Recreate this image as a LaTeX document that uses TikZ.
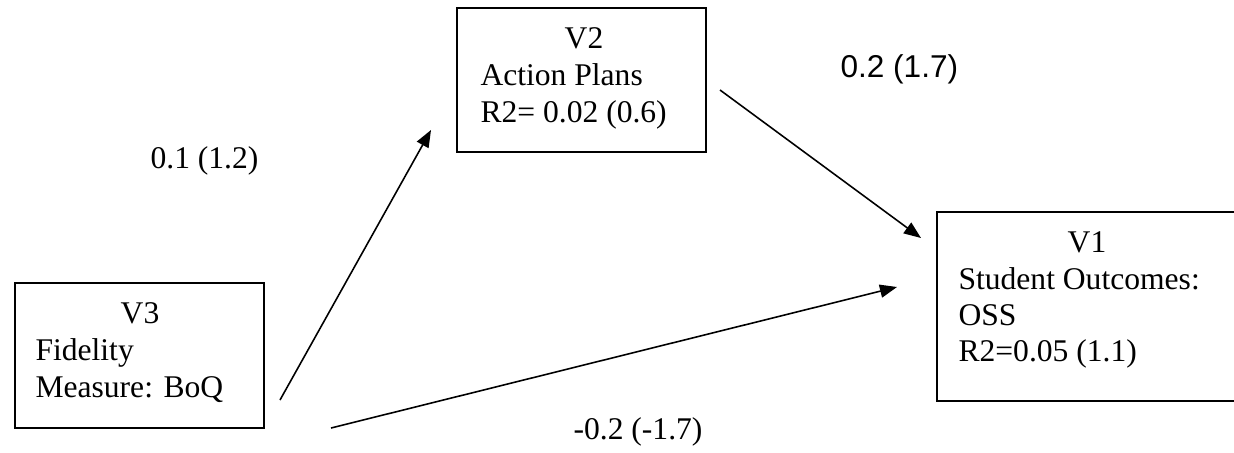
\documentclass[tikz,border=0pt]{standalone}
\usepackage{fontspec}
\setmainfont{Liberation Serif}
\newfontfamily\arialfont{Liberation Sans}
\usetikzlibrary{arrows.meta,fit}
\begin{document}
\begin{tikzpicture}[x=0.38pt,y=-0.38pt,
  box/.style={draw=black, line width=0.75pt, inner sep=0pt, rectangle},
  txt/.style={inner sep=0pt, font=\fontsize{12}{14}\selectfont},
  lbl/.style={inner sep=0pt, font=\fontsize{12}{14}\selectfont},
  lblsans/.style={inner sep=0pt, font=\arialfont\fontsize{12}{14}\selectfont},
  arr/.style={line width=0.6pt, -{Triangle[length=6.5pt,width=5pt]}}]
\useasboundingbox (0,0) rectangle (1234,452);
% boxes
\coordinate (v3nw) at (15,283);  \coordinate (v3se) at (264,428);
\coordinate (v2nw) at (457,8);   \coordinate (v2se) at (706,152);
\coordinate (v1nw) at (937,212); \coordinate (v1se) at (1237,401);
\node[box, fit=(v3nw)(v3se)] (v3) {};
\node[box, fit=(v2nw)(v2se)] (v2) {};
\node[box, fit=(v1nw)(v1se)] (v1) {};
% V3 text
\node[txt, anchor=base] (v3t1) at (140,323) {V3};
\node[txt, anchor=base west] (v3t2) at (35,360) {Fidelity};
\node[txt, anchor=base west] (v3t3) at (35,397) {Measure: BoQ};
% V2 text
\node[txt, anchor=base] (v2t1) at (584,48) {V2};
\node[txt, anchor=base west] (v2t2) at (480,85) {Action Plans};
\node[txt, anchor=base west] (v2t3) at (480,122) {R2= 0.02 (0.6)};
% V1 text
\node[txt, anchor=base] (v1t1) at (1087,252) {V1};
\node[txt, anchor=base west] (v1t2) at (958,289) {Student Outcomes:};
\node[txt, anchor=base west] (v1t3) at (958,325) {OSS};
\node[txt, anchor=base west] (v1t4) at (958,361) {R2=0.05 (1.1)};
% coefficient labels
\node[lbl, anchor=base] (l1) at (204.5,168) {0.1 (1.2)};
\node[lbl, anchor=base] (l3) at (638,439) {-0.2 (-1.7)};
\node[lblsans, anchor=base west] (l2) at (840,77) {0.2 (1.7)};
% arrows
\coordinate (a1s) at (280,400); \coordinate (a1e) at (431,130);
\coordinate (a2s) at (720,90);  \coordinate (a2e) at (921,238);
\coordinate (a3s) at (331,428); \coordinate (a3e) at (897,287);
\draw[arr] (a1s) -- (a1e);
\draw[arr] (a2s) -- (a2e);
\draw[arr] (a3s) -- (a3e);
\end{tikzpicture}
\end{document}
